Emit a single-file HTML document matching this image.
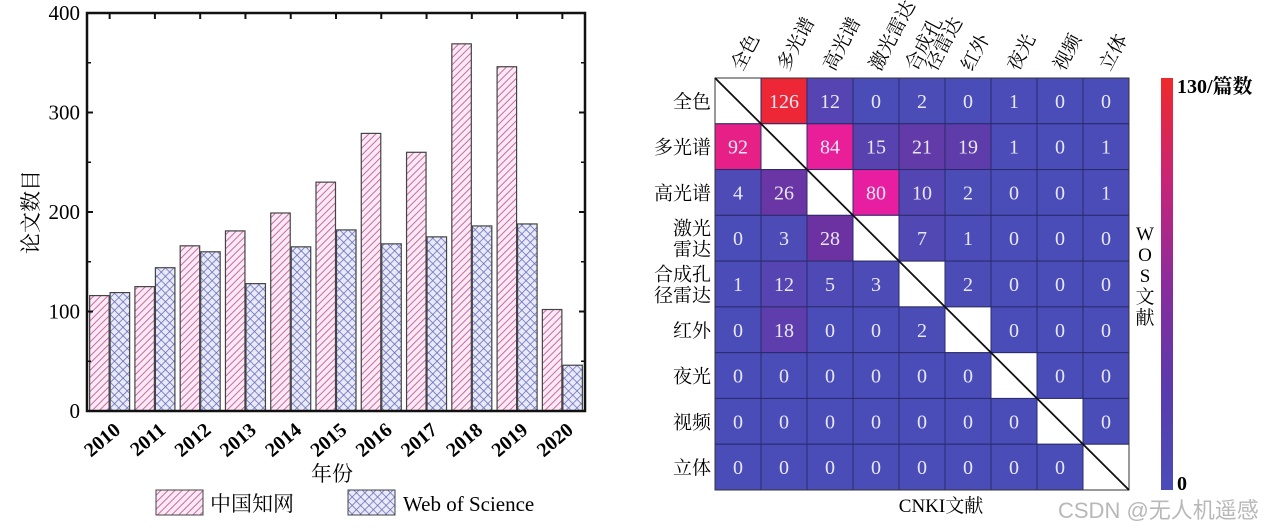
<!DOCTYPE html>
<html><head><meta charset="utf-8">
<style>
body{margin:0;background:#fff;}
svg{display:block;font-family:"Liberation Serif","Noto Serif CJK SC",serif;}
</style></head>
<body>
<svg id="s" width="1270" height="531" viewBox="0 0 1270 531">
<defs>
<pattern id="hatchPink" width="5" height="5" patternUnits="userSpaceOnUse" patternTransform="rotate(45)">
<rect width="5" height="5" fill="#fbeaf3"/><line x1="0" y1="0" x2="0" y2="5" stroke="#c86aa8" stroke-width="2"/></pattern>
<pattern id="hatchBlue" width="6" height="6" patternUnits="userSpaceOnUse" patternTransform="rotate(45)">
<rect width="6" height="6" fill="#e8eaf8"/><line x1="0" y1="0" x2="0" y2="6" stroke="#6668b8" stroke-width="1.5"/><line x1="0" y1="0" x2="6" y2="0" stroke="#6668b8" stroke-width="1.5"/></pattern>
<linearGradient id="cbar" x1="0" y1="1" x2="0" y2="0">
<stop offset="0" stop-color="#4a4db8"/><stop offset="0.25" stop-color="#5a3aac"/><stop offset="0.5" stop-color="#8a2c9c"/><stop offset="0.75" stop-color="#c82478"/><stop offset="1" stop-color="#ee2a2a"/></linearGradient>
</defs>
<g id="bar"></g>
<g id="heat"></g>
<text x="1058" y="518" font-family="Liberation Sans,Noto Sans CJK SC,sans-serif" font-size="22" fill="#b8b8b8">CSDN @无人机遥感</text>
</svg>
<script>
const years=["2010","2011","2012","2013","2014","2015","2016","2017","2018","2019","2020"];
const cnki=[116,125,166,181,199,230,279,260,369,346,102];
const wos=[119,144,160,128,165,182,168,175,186,188,46];
const yTicks=[0,100,200,300,400];
const cats=["全色","多光谱","高光谱","激光雷达","合成孔径雷达","红外","夜光","视频","立体"];
const colLabels=[["全色"],["多光谱"],["高光谱"],["激光雷达"],["合成孔","径雷达"],["红外"],["夜光"],["视频"],["立体"]];
const rowLabels=[["全色"],["多光谱"],["高光谱"],["激光","雷达"],["合成孔","径雷达"],["红外"],["夜光"],["视频"],["立体"]];
const matrix=[
[null,126,12,0,2,0,1,0,0],
[92,null,84,15,21,19,1,0,1],
[4,26,null,80,10,2,0,0,1],
[0,3,28,null,7,1,0,0,0],
[1,12,5,3,null,2,0,0,0],
[0,18,0,0,2,null,0,0,0],
[0,0,0,0,0,0,null,0,0],
[0,0,0,0,0,0,0,null,0],
[0,0,0,0,0,0,0,0,null]];
const cmax=130;
const NS="http://www.w3.org/2000/svg";
function mk(p,t,a,txt){const e=document.createElementNS(NS,t);for(const k in a)e.setAttribute(k,a[k]);if(txt!==undefined)e.textContent=txt;p.appendChild(e);return e;}
const B=document.getElementById('bar');
const L=87,R=585,T=13,Bt=411,ymax=400;
const y=v=>Bt-(v/ymax)*(Bt-T);
const gw=(R-L)/years.length;
const x=i=>L+gw*(i+0.5);
const bw=19.5;
years.forEach((yr,i)=>{
 let r1=mk(B,'rect',{x:x(i)-bw-0.5,y:y(cnki[i]),width:bw,height:Bt-y(cnki[i]),fill:'url(#hatchPink)',stroke:'#444',"stroke-width":1.2});
 
 
 let r2=mk(B,'rect',{x:x(i)+0.5,y:y(wos[i]),width:bw,height:Bt-y(wos[i]),fill:'url(#hatchBlue)',stroke:'#444',"stroke-width":1.2});
 
 
 let t=mk(B,'text',{x:x(i)+12,y:432,"font-size":20,"font-weight":"bold","text-anchor":"end",transform:`rotate(-40 ${x(i)+12} 432)`},yr);
 
 
 mk(B,'line',{x1:x(i),x2:x(i),y1:T,y2:T+6,stroke:'#111',"stroke-width":2});
});
yTicks.forEach(v=>{
 let t=mk(B,'text',{x:80,y:y(v)+7,"font-size":21,"text-anchor":"end"},v);
 
 
 mk(B,'line',{x1:L,x2:L+6,y1:y(v),y2:y(v),stroke:'#111',"stroke-width":2});
 mk(B,'line',{x1:R-6,x2:R,y1:y(v),y2:y(v),stroke:'#111',"stroke-width":2});
});
[50,150,250,350].forEach(v=>{mk(B,'line',{x1:L,x2:L+4,y1:y(v),y2:y(v),stroke:'#111',"stroke-width":1.5});mk(B,'line',{x1:R-4,x2:R,y1:y(v),y2:y(v),stroke:'#111',"stroke-width":1.5});});
let fr=mk(B,'rect',{x:L,y:T,width:R-L,height:Bt-T,fill:'none',stroke:'#111',"stroke-width":2.5});

let yt=mk(B,'text',{x:38,y:212,"font-size":21,"text-anchor":"middle",transform:"rotate(-90 38 212)"},"论文数目");

let xt=mk(B,'text',{x:332,y:481,"font-size":21,"text-anchor":"middle"},"年份");

let lg1=mk(B,'rect',{x:156,y:490,width:47,height:25,fill:'url(#hatchPink)',stroke:'#444'});

let lt1=mk(B,'text',{x:210,y:511,"font-size":21},"中国知网");

let lg2=mk(B,'rect',{x:348,y:490,width:47,height:25,fill:'url(#hatchBlue)',stroke:'#444'});

let lt2=mk(B,'text',{x:403,y:511,"font-size":21},"Web of Science");

const H=document.getElementById('heat');
const HL=715,HR=1129,HT=78,HB=490;
const cw=(HR-HL)/cats.length,ch=(HB-HT)/cats.length;
const stops=[[0,[74,77,184]],[15,[88,66,175]],[30,[112,48,160]],[80,[232,30,160]],[100,[230,34,120]],[130,[238,40,44]]];
function col(v){for(let k=1;k<stops.length;k++){if(v<=stops[k][0]){const a=stops[k-1],b=stops[k],f=(v-a[0])/(b[0]-a[0]);return 'rgb('+a[1].map((c,j)=>Math.round(c+(b[1][j]-c)*f)).join(',')+')';}}return 'rgb(238,40,44)';}
matrix.forEach((row,r)=>row.forEach((v,c)=>{
 let rc=mk(H,'rect',{x:HL+c*cw,y:HT+r*ch,width:cw,height:ch,fill:v===null?'#fff':col(Math.min(v,cmax)),stroke:'#2a2a6a',"stroke-width":1});
 
 if(v!==null){let t=mk(H,'text',{x:HL+(c+0.5)*cw,y:HT+(r+0.5)*ch+7,"font-size":20,fill:'#e8e8f4',"text-anchor":"middle"},v);
 }
}));
mk(H,'rect',{x:HL,y:HT,width:HR-HL,height:HB-HT,fill:'none',stroke:'#333',"stroke-width":1});
mk(H,'line',{x1:HL,y1:HT,x2:HR,y2:HB,stroke:'#111',"stroke-width":1.8});
rowLabels.forEach((lab,r)=>{
 const cy=HT+(r+0.5)*ch;
 lab.forEach((s,k)=>{let t=mk(H,'text',{x:711,y:cy+7+(k-(lab.length-1)/2)*21,"font-size":19,"text-anchor":"end"},s);
 });
});
colLabels.forEach((lab,c)=>{
 const cx=HL+(c+0.5)*cw;
 lab.forEach((s,k)=>{const ox=cx+4+(k-(lab.length-1)/2)*20, oy=HT-6;
 let t=mk(H,'text',{x:ox,y:oy,"font-size":19,"text-anchor":"start",transform:`rotate(-62 ${ox} ${oy})`},s);
 });
});
let cb=mk(H,'rect',{x:1161,y:HT,width:12,height:HB-HT,fill:'url(#cbar)'});

let cm=mk(H,'text',{x:1177,y:93,"font-size":20,"font-weight":"bold"},"130/篇数");

let c0=mk(H,'text',{x:1177,y:490,"font-size":20,"font-weight":"bold"},"0");

["W","O","S","文","献"].forEach((s,k)=>{let t=mk(H,'text',{x:1145,y:240+k*21,"font-size":19,"text-anchor":"middle"},s);
 });
let cx2=mk(H,'text',{x:941,y:512,"font-size":19,"text-anchor":"middle"},"CNKI文献");

</script>
</body></html>
